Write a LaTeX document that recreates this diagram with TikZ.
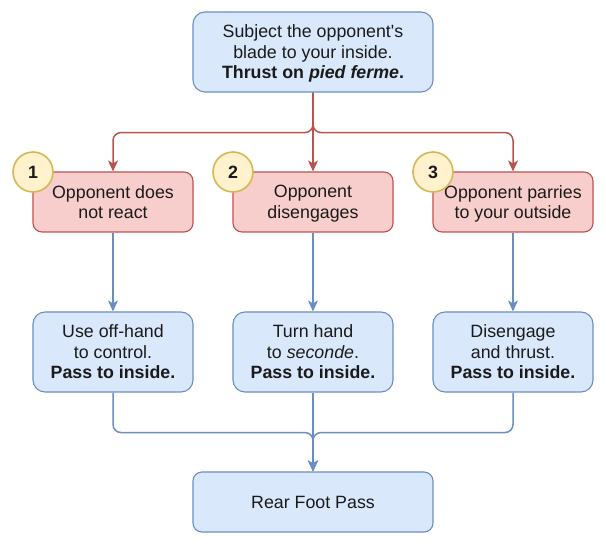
\documentclass[tikz,border=0pt]{standalone}
\usepackage{fontspec}
\setmainfont{Liberation Sans}
\usetikzlibrary{arrows.meta}
\definecolor{bfill}{HTML}{DAE8FC}
\definecolor{bstroke}{HTML}{6C8EBF}
\definecolor{rfill}{HTML}{F8CECC}
\definecolor{rstroke}{HTML}{B85450}
\definecolor{yfill}{HTML}{FFF2CC}
\definecolor{ystroke}{HTML}{D6B656}
\definecolor{txt}{HTML}{1A1A1A}
\begin{document}
\begin{tikzpicture}[x=1pt,y=-1pt,font=\fontsize{17.8}{20.5}\selectfont]
\useasboundingbox (0,0) rectangle (606,545);
\tikzset{
  box/.style={draw, line width=1.1pt, align=center, inner sep=0pt, text=txt, minimum width=160pt, text depth=0pt},
  bluebox/.style={box, fill=bfill, draw=bstroke, rounded corners=12pt, minimum height=80pt},
  redbox/.style={box, fill=rfill, draw=rstroke, rounded corners=9pt, minimum height=60pt},
  numcirc/.style={circle, draw=ystroke, fill=yfill, line width=1.6pt, minimum size=40pt, inner sep=0pt, text=txt, font=\fontsize{17.8}{20.5}\selectfont\bfseries},
  conn/.style={line width=1.5pt, rounded corners=8pt, -{Stealth[length=11pt,width=10pt,inset=3pt]}},
  redconn/.style={conn, draw=rstroke, color=rstroke},
  blueconn/.style={conn, draw=bstroke, color=bstroke}
}
\node[bluebox, minimum width=240pt] (top) at (313,52) {Subject the opponent\textquotesingle s\\blade to your inside.\\\textbf{Thrust on \textit{pied ferme}.}};
\node[redbox] (r1) at (113,202) {Opponent does\\not react};
\node[redbox] (r2) at (313,202) {Opponent\\disengages};
\node[redbox] (r3) at (513,202) {Opponent parries\\to your outside};
\node[bluebox] (m1) at (113,352) {Use off-hand\\to control.\\\textbf{Pass to inside.}};
\node[bluebox] (m2) at (313,352) {Turn hand\\to \textit{seconde}.\\\textbf{Pass to inside.}};
\node[bluebox] (m3) at (513,352) {Disengage\\and thrust.\\\textbf{Pass to inside.}};
\node[box, fill=bfill, draw=bstroke, rounded corners=9pt, minimum width=240pt, minimum height=60pt] (bot) at (313,502) {Rear Foot Pass};
\node[numcirc] (c1) at (33,172) {1};
\node[numcirc] (c2) at (233,172) {2};
\node[numcirc] (c3) at (433,172) {3};
\draw[redconn] (top.south) -- ++(0,40) -| (r1.north);
\draw[redconn] (top.south) -- (r2.north);
\draw[redconn] (top.south) -- ++(0,40) -| (r3.north);
\draw[blueconn] (r1.south) -- (m1.north);
\draw[blueconn] (r2.south) -- (m2.north);
\draw[blueconn] (r3.south) -- (m3.north);
\draw[blueconn] (m1.south) -- ++(0,40) -| (bot.north);
\draw[blueconn] (m2.south) -- (bot.north);
\draw[blueconn] (m3.south) -- ++(0,40) -| (bot.north);
\end{tikzpicture}
\end{document}
